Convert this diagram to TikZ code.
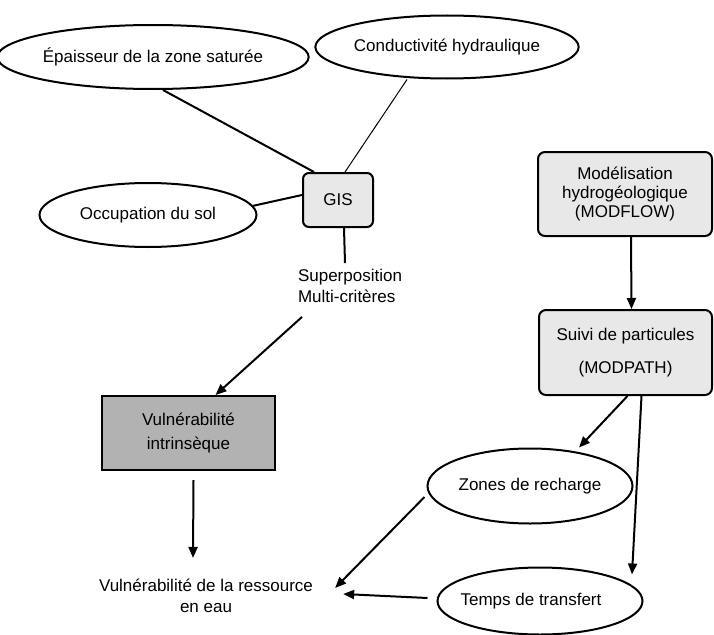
\documentclass[tikz,border=0pt]{standalone}
\usepackage{fontspec}
\setmainfont{Liberation Sans}
\usetikzlibrary{shapes.geometric,arrows.meta}
\begin{document}
\begin{tikzpicture}[x=1pt,y=-1pt,>={Triangle[length=11pt,width=9pt]},font=\fontsize{17}{21}\selectfont,
	bulle/.style={draw,ellipse,line width=2pt,inner sep=0pt},
	boite/.style={draw,rounded corners=7pt,fill=gray!18,line width=2pt,inner sep=0pt,align=center},
	trait/.style={line width=2pt}]
	\useasboundingbox (0,0) rectangle (714,634);
	\node[bulle,minimum width=287pt,minimum height=64pt] (epais) at (153,57) {Épaisseur de la zone saturée};
	\node[bulle,minimum width=245pt,minimum height=63pt] (cond) at (447,47) {Conductivité hydraulique};
	\node[bulle,minimum width=217pt,minimum height=64pt] (occ) at (148,215) {Occupation du sol};
	\node[boite,rounded corners=6pt,minimum width=70pt,minimum height=54pt] (gis) at (338,200) {GIS};
	\node[align=left,inner xsep=0pt,inner ysep=6pt] (superpos) at (350,286) {Superposition\\Multi-critères};
	\node[boite,rounded corners=0pt,fill=gray!60,minimum width=173pt,minimum height=74pt,font=\fontsize{17}{24}\selectfont] (vuln) at (188.5,433) {Vulnérabilité\\intrinsèque};
	\node[align=center,inner sep=0pt] (ressource) at (206,596) {Vulnérabilité de la ressource\\en eau};
	\node[boite,minimum width=174pt,minimum height=84pt,font=\fontsize{17}{19}\selectfont] (model) at (625,194) {Modélisation\\hydrogéologique\\(MODFLOW)};
	\node[boite,minimum width=173pt,minimum height=85pt] (suivi) at (625.5,352.5) {Suivi de particules\\[12pt](MODPATH)};
	\node[bulle,minimum width=205pt,minimum height=75pt] (zones) at (530,486) {Zones de recharge};
	\node[bulle,minimum width=205pt,minimum height=67pt] (temps) at (540,601) {\hspace*{-18pt}Temps de transfert};
	\draw[trait] ([xshift=10pt]epais.south) -- ([xshift=12pt]gis.north west);
	\draw[line width=1pt] ([xshift=-40pt]cond.south) -- ([xshift=7pt]gis.north);
	\draw[trait] (occ.5) -- ([yshift=5pt]gis.west);
	\draw[trait] ([xshift=6pt]gis.south) -- ([xshift=-5pt]superpos.north);
	\draw[trait,->] ([xshift=-48pt,yshift=-8pt]superpos.south) -- ([xshift=27pt]vuln.north);
	\draw[trait,->] ([xshift=5pt,yshift=-9pt]vuln.south) -- ([xshift=-13pt,yshift=21pt]ressource.north);
	\draw[trait,->] ([xshift=6pt]model.south) -- ([xshift=6pt]suivi.north);
	\draw[trait,->] ([xshift=2pt]suivi.south) -- ([xshift=49pt]zones.north);
	\draw[trait,->] ([xshift=16pt]suivi.south) -- ([xshift=92pt,yshift=-8pt]temps.north);
	\draw[trait,->] ([xshift=-2pt,yshift=-11pt]zones.west) -- ([xshift=22pt,yshift=-9pt]ressource.north east);
	\draw[trait,->] ([xshift=-9pt,yshift=3pt]temps.west) -- ([xshift=30pt,yshift=2pt]ressource.east);
\end{tikzpicture}
\end{document}
